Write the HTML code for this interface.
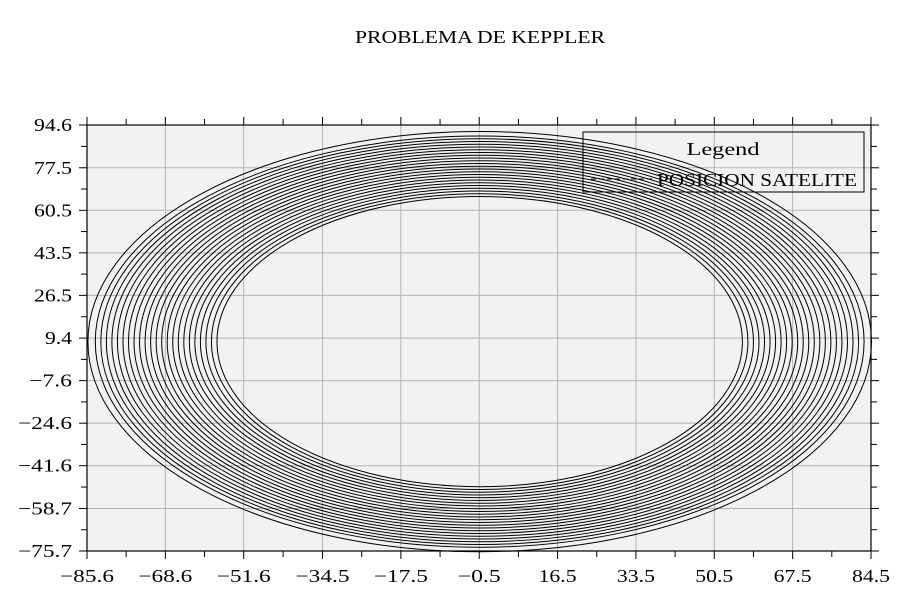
<!DOCTYPE html>
<html><head><meta charset="utf-8"><style>
html,body{margin:0;padding:0;background:#fff;}
svg{display:block;font-family:"Liberation Serif","DejaVu Serif",serif;}
</style></head><body>
<svg id="chart" width="918" height="597" viewBox="0 0 918 597" xmlns="http://www.w3.org/2000/svg">
<text x="480" y="43" text-anchor="middle" font-size="18" textLength="250" lengthAdjust="spacingAndGlyphs">PROBLEMA DE KEPPLER</text>
<rect x="87" y="125" width="784" height="426" fill="#f2f2f2"/>
<g id="grid"></g>
<g id="orbits"></g>
<rect x="87" y="125" width="784" height="426" fill="none" stroke="#000" stroke-width="1.2"/>
<g id="axes"></g>
<g>
<rect x="583" y="132" width="281" height="60" fill="none" stroke="#000" stroke-width="1"/>
<text x="723" y="155" text-anchor="middle" font-size="18" textLength="73" lengthAdjust="spacingAndGlyphs">Legend</text>
<line x1="591" y1="179" x2="652" y2="179" stroke="#000" stroke-width="1" stroke-dasharray="5,3"/>
<text x="657" y="186" font-size="18" textLength="200" lengthAdjust="spacingAndGlyphs">POSICION SATELITE</text>
</g>
</svg>
<script>
const xTicks=[-85.6,-68.6,-51.6,-34.5,-17.5,-0.5,16.5,33.5,50.5,67.5,84.5];
const yTicks=[94.6,77.5,60.5,43.5,26.5,9.4,-7.6,-24.6,-41.6,-58.7,-75.7];
const orbitCenterX=[-0.4];
const orbitCenterY=[8.0];
const orbitRadiusX=[57,58.2,59.4,60.6,61.8,63,64.2,65.4,66.6,67.8,69,70.2,71.4,72.6,73.8,75,76.2,77.4,78.6,79.8,81,82.2,83.4,85];
const orbitRadiusY=[58,59.1,60.2,61.3,62.4,63.5,64.6,65.7,66.8,67.9,69,70.1,71.2,72.3,73.4,74.5,75.6,76.7,77.8,78.9,80,81.1,82.2,84];
const NS='http://www.w3.org/2000/svg';
const L=87,R=871,T=125,B=551;
const xMin=-85.6,xMax=84.5,yMin=-75.7,yMax=94.6;
function sx(v){return L+(v-xMin)/(xMax-xMin)*(R-L);}
function sy(v){return B-(v-yMin)/(yMax-yMin)*(B-T);}
function mk(tag,attrs,parent){const e=document.createElementNS(NS,tag);for(const k in attrs)e.setAttribute(k,attrs[k]);parent.appendChild(e);return e;}
function fmt(v){return (v<0?'\u2212':'')+Math.abs(v).toFixed(1);}
function tw(s){let w=0;for(const c of s){w+=c==='\u2212'?16:(c==='.'?5:11);}return w;}
const grid=document.getElementById('grid'),axes=document.getElementById('axes'),orb=document.getElementById('orbits');
xTicks.forEach((v,i)=>{
  const x=sx(v);
  const g=mk('line',{x1:x,y1:T,x2:x,y2:B,stroke:'#b4b4b4','stroke-width':1},grid);
  
  
  const t1=mk('line',{x1:x,y1:B,x2:x,y2:B+8,stroke:'#000'},axes);
  
  
  const t2=mk('line',{x1:x,y1:T,x2:x,y2:T-8,stroke:'#000'},axes);
  
  
  if(i<xTicks.length-1){const m=sx((v+xTicks[i+1])/2);
    const m1=mk('line',{x1:m,y1:B,x2:m,y2:B+6,stroke:'#000'},axes);
    
    
    const m2=mk('line',{x1:m,y1:T,x2:m,y2:T-6,stroke:'#000'},axes);
    
    }
  const s=fmt(v);
  const lb=mk('text',{x:x,y:B+31,'text-anchor':'middle','font-size':18,textLength:tw(s),lengthAdjust:'spacingAndGlyphs'},axes);
  lb.textContent=s;
  
  
});
yTicks.forEach((v,i)=>{
  const y=sy(v);
  const g=mk('line',{x1:L,y1:y,x2:R,y2:y,stroke:'#b4b4b4','stroke-width':1},grid);
  
  
  const t1=mk('line',{x1:L,y1:y,x2:L-8,y2:y,stroke:'#000'},axes);
  
  
  const t2=mk('line',{x1:R,y1:y,x2:R+8,y2:y,stroke:'#000'},axes);
  
  
  if(i<yTicks.length-1){const m=sy((v+yTicks[i+1])/2);
    const m1=mk('line',{x1:L,y1:m,x2:L-6,y2:m,stroke:'#000'},axes);
    
    
    const m2=mk('line',{x1:R,y1:m,x2:R+6,y2:m,stroke:'#000'},axes);
    
    }
  const s=fmt(v);
  const lb=mk('text',{x:72,y:y+6,'text-anchor':'end','font-size':18,textLength:tw(s),lengthAdjust:'spacingAndGlyphs'},axes);
  lb.textContent=s;
  
  
});
const cx=sx(orbitCenterX[0]),cy=sy(orbitCenterY[0]);
const pxX=(R-L)/(xMax-xMin),pxY=(B-T)/(yMax-yMin);
orbitRadiusX.forEach((a,i)=>{
  const e=mk('ellipse',{cx:cx,cy:cy,rx:a*pxX,ry:orbitRadiusY[i]*pxY,fill:'none',stroke:'#000','stroke-width':1},orb);
  
  
});
</script>
</body></html>
